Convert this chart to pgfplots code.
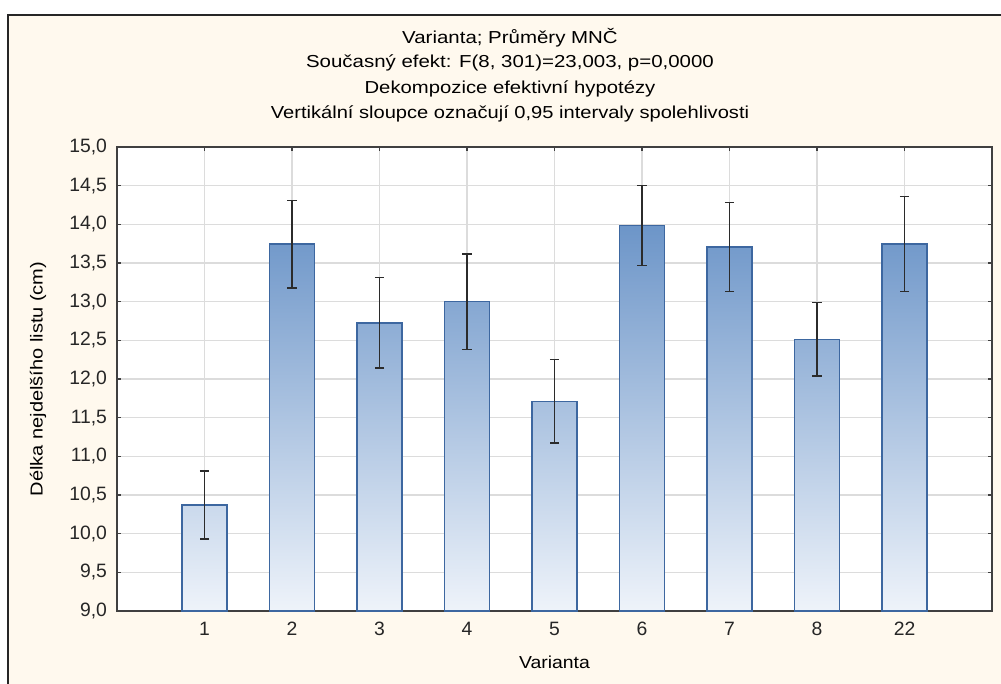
\documentclass[border=0pt]{standalone}
\usepackage{pgfplots}
\pgfplotsset{compat=1.18}
\usepackage{fontspec}
\setmainfont{Liberation Sans}
\definecolor{cream}{HTML}{FFF9EE}
\definecolor{gridc}{HTML}{DCDCDC}
\definecolor{axc}{HTML}{404040}
\definecolor{edgec}{HTML}{3D67A0}
\definecolor{barD}{HTML}{5282BE}
\definecolor{barL}{HTML}{EEF3FA}
\definecolor{errc}{HTML}{2B2B2B}
\newcommand{\tfont}{\fontsize{13}{15}\selectfont}
\newcommand{\kfont}{\fontsize{14.5}{16}\selectfont}
\begin{document}
\begin{tikzpicture}
\useasboundingbox (0,0) rectangle (750.75pt,513pt);
\begin{scope}
\clip (0,0) rectangle (750.75pt,513pt);
\fill[white] (0,0) rectangle (750.75pt,513pt);
\draw[fill=cream, draw=black!85, line width=0.9pt] (6pt,-10pt) rectangle (760pt,501.75pt);
\end{scope}
\begin{axis}[
 at={(87.75pt,54.75pt)}, anchor=south west,
 width=656.25pt, height=348pt, scale only axis,
 xmin=-1, xmax=9, ymin=9, ymax=15,
 xtick={0,1,2,3,4,5,6,7,8}, xticklabels={1,2,3,4,5,6,7,8,22},
 ytick={9,9.5,10,10.5,11,11.5,12,12.5,13,13.5,14,14.5,15},
 grid=major, major grid style={draw=gridc, line width=1.1pt},
 axis line style={draw=axc, line width=1pt},
 tick align=inside, major tick length=3pt, tick style={draw=axc, line width=0.9pt},
 ticklabel style={font=\kfont, text=black!85},
 xticklabel style={yshift=-5pt},
 yticklabel style={xshift=-4pt, /pgf/number format/.cd, fixed, fixed zerofill, precision=1, use comma, assume math mode=true},
 axis background/.style={fill=white},
 xlabel={\scalebox{1.12}[1]{Varianta}},
 ylabel={\scalebox{1.155}[1]{Délka nejdelšího listu (cm)}},
 xlabel style={at={(axis description cs:0.5,-0.1099)}, anchor=center, font=\tfont},
 ylabel style={at={(axis description cs:-0.0903,0.5)}, anchor=center, font=\tfont},
 clip=false,
]
\addplot[draw=edgec, line width=1pt, top color=barD!23!barL, bottom color=barL] coordinates {(-0.257,9) (-0.257,10.37) (0.257,10.37) (0.257,9)} -- cycle;
\addplot[draw=edgec, line width=1pt, top color=barD!79!barL, bottom color=barL] coordinates {(0.743,9) (0.743,13.745) (1.257,13.745) (1.257,9)} -- cycle;
\addplot[draw=edgec, line width=1pt, top color=barD!62!barL, bottom color=barL] coordinates {(1.743,9) (1.743,12.725) (2.257,12.725) (2.257,9)} -- cycle;
\addplot[draw=edgec, line width=1pt, top color=barD!67!barL, bottom color=barL] coordinates {(2.743,9) (2.743,13.0) (3.257,13.0) (3.257,9)} -- cycle;
\addplot[draw=edgec, line width=1pt, top color=barD!45!barL, bottom color=barL] coordinates {(3.743,9) (3.743,11.71) (4.257,11.71) (4.257,9)} -- cycle;
\addplot[draw=edgec, line width=1pt, top color=barD!83!barL, bottom color=barL] coordinates {(4.743,9) (4.743,13.985) (5.257,13.985) (5.257,9)} -- cycle;
\addplot[draw=edgec, line width=1pt, top color=barD!78!barL, bottom color=barL] coordinates {(5.743,9) (5.743,13.705) (6.257,13.705) (6.257,9)} -- cycle;
\addplot[draw=edgec, line width=1pt, top color=barD!59!barL, bottom color=barL] coordinates {(6.743,9) (6.743,12.515) (7.257,12.515) (7.257,9)} -- cycle;
\addplot[draw=edgec, line width=1pt, top color=barD!79!barL, bottom color=barL] coordinates {(7.743,9) (7.743,13.745) (8.257,13.745) (8.257,9)} -- cycle;
\addplot[draw=none, mark=none,
  error bars/.cd, y dir=both, y explicit,
  error bar style={draw=errc, line width=1.2pt},
  error mark options={draw=errc, line width=1.2pt, rotate=90, mark size=3.4pt}]
  coordinates {
  (0,10.37) +- (0,0.44)
  (1,13.745) +- (0,0.565)
  (2,12.725) +- (0,0.585)
  (3,13.0) +- (0,0.62)
  (4,11.71) +- (0,0.54)
  (5,13.985) +- (0,0.515)
  (6,13.705) +- (0,0.575)
  (7,12.515) +- (0,0.475)
  (8,13.745) +- (0,0.615)
  };
\end{axis}
\node[font=\tfont] at (382.5pt,484.5pt) {\scalebox{1.18}[1]{Varianta; Průměry MNČ}};
\node[font=\tfont] at (382.5pt,465.75pt) {\scalebox{1.18}[1]{Současný efekt: F(8, 301)=23,003, p=0,0000}};
\node[font=\tfont] at (382.5pt,446.25pt) {\scalebox{1.17}[1]{Dekompozice efektivní hypotézy}};
\node[font=\tfont] at (382.5pt,427.5pt) {\scalebox{1.16}[1]{Vertikální sloupce označují 0,95 intervaly spolehlivosti}};
\end{tikzpicture}
\end{document}
